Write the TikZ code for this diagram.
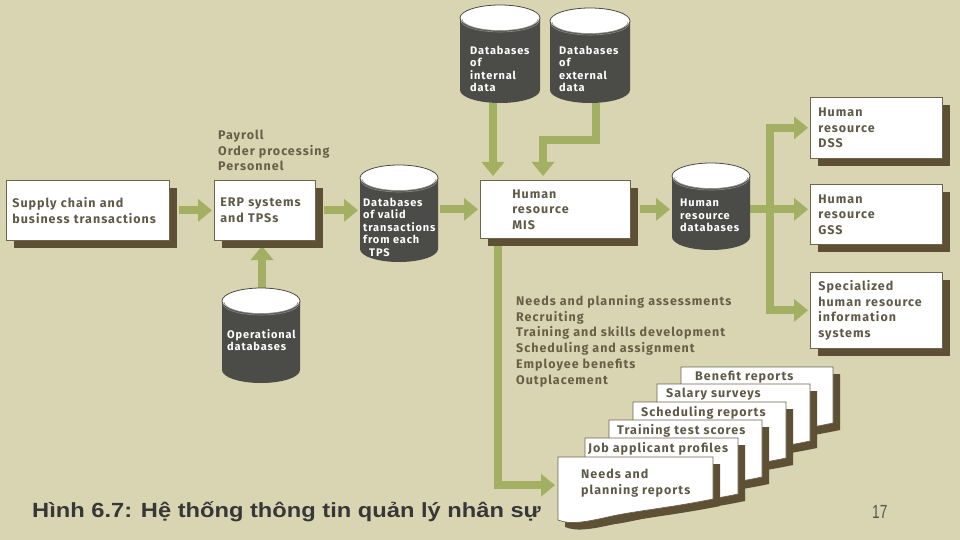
\documentclass[tikz,border=0pt]{standalone}
\usepackage{fontspec}
\setmainfont{Liberation Sans}
\newfontfamily\dfont[LetterSpace=8]{Fira Sans}
\usetikzlibrary{arrows.meta,shadows}
\definecolor{bgc}{RGB}{217,212,178}
\definecolor{gr}{RGB}{163,175,98}
\definecolor{shadc}{RGB}{94,80,52}
\definecolor{bordc}{RGB}{110,100,80}
\definecolor{boxtext}{RGB}{95,90,72}
\definecolor{listc}{RGB}{105,95,70}
\definecolor{cylc}{RGB}{75,75,72}
\definecolor{rimc}{RGB}{140,140,135}
\definecolor{capc}{RGB}{55,55,55}
\definecolor{pgnum}{RGB}{85,85,75}
\newcommand\dgmbox{\dfont\bfseries\fontsize{12.5}{15.5}\selectfont}
\newcommand\dgmcyl{\dfont\bfseries\fontsize{11}{12.4}\selectfont}
\pgfdeclarelayer{bglayer}
\pgfdeclarelayer{arrowlayer}
\pgfsetlayers{bglayer,arrowlayer,main}
\tikzset{
  sbox/.style={draw=bordc, line width=0.7pt, fill=white,
    drop shadow={shadow xshift=8pt, shadow yshift=-8pt, fill=shadc, opacity=1},
    anchor=north west, align=left, font=\dgmbox, text=boxtext, inner ysep=0pt},
  garrow/.style={draw=gr, line width=8pt, -{Triangle[length=14pt,width=22pt]}},
  garrowtwo/.style={draw=gr, line width=8pt, {Triangle[length=14pt,width=22pt]}-{Triangle[length=14pt,width=22pt]}},
  cylnode/.style={inner sep=0pt, anchor=north west},
  cyltext/.style={inner sep=0pt, anchor=north west, align=left, text=white, font=\dgmcyl},
  listtext/.style={inner sep=0pt, anchor=north west, align=left, text=listc, font=\dgmbox},
  docnode/.style={inner sep=0pt, anchor=north west, font=\dgmbox, text=boxtext},
}
% cylinder: name, x, y, w, h, text dx, text dy, text
\newcommand\dbcyl[8]{%
  \node[cylnode, minimum width=#4pt, minimum height=#5pt] (#1) at (#2,#3) {};
  \begin{scope}[shift={(#2,#3)}]
    \fill[cylc] (0,13) -- (0,#5-13) arc[start angle=180, end angle=0, x radius=#4/2, y radius=13] -- (#4,13) -- cycle;
    \filldraw[fill=white, draw=cylc, line width=0.8pt] (#4/2,13) ellipse [x radius=#4/2, y radius=13];
    \draw[rimc, line width=0.6pt] (2,14) arc[start angle=180, end angle=0, x radius=#4/2-2, y radius=11.5];
    \draw[rimc, line width=0.6pt] (1,15.5) arc[start angle=180, end angle=0, x radius=#4/2-1, y radius=11.5];
  \end{scope}
  \node[cyltext] (#1t) at (#2+#6,#3+#7) {#8};
}
\newcommand\docpath[2]{(0,0) -- (#1,0) -- (#1,#2) .. controls (0.75*#1,#2+8) and (0.5*#1,#2+12) .. (0.35*#1,#2+17) .. controls (0.18*#1,#2+23) and (0.08*#1,#2+26) .. (0,#2+21) -- cycle}
% doc: name, x, y, w, r, indent, topskip, boxheight, text
\newcommand\docpage[9]{%
  \begin{scope}[shift={(#2,#3)}]
    \fill[shadc, shift={(7,7)}] \docpath{#4}{#5};
    \filldraw[fill=white, draw=bordc, line width=0.7pt] \docpath{#4}{#5};
  \end{scope}
  \node[docnode] (#1) at (#2,#3) {\parbox[c][#8pt][t]{#4pt}{\raggedright\leftskip=#6pt\relax\vspace*{#7pt}#9}};
}
\begin{document}
\begin{tikzpicture}[x=1pt,y=-1pt]
\begin{pgfonlayer}{bglayer}
  \fill[bgc] (0,0) rectangle (960,540);
\end{pgfonlayer}
\path[use as bounding box] (0,0) rectangle (960,540);

% boxes
\node[sbox, minimum width=163pt, minimum height=60pt, inner xsep=6pt, text width=151pt] (sc) at (6,180) {\mbox{Supply chain and}\\\mbox{business transactions}};
\node[sbox, minimum width=101pt, minimum height=60pt, inner xsep=6pt, text width=89pt] (erp) at (214,180) {\mbox{ERP systems}\\and TPSs};
\node[sbox, minimum width=150pt, minimum height=58pt, inner xsep=32pt, text width=86pt] (mis) at (480,180) {Human\\resource\\MIS};
\node[sbox, minimum width=132pt, minimum height=61pt, inner xsep=8pt, text width=116pt] (dss) at (810,97) {Human\\resource\\DSS};
\node[sbox, minimum width=132pt, minimum height=60pt, inner xsep=8pt, text width=116pt] (gss) at (810,184) {Human\\resource\\GSS};
\node[sbox, minimum width=132pt, minimum height=76pt, inner xsep=8pt, text width=116pt] (spec) at (810,272) {Specialized\\\mbox{human resource}\\information\\systems};

% texts
\node[listtext] (tps) at (218,130) {Payroll\\Order processing\\Personnel};
\node[listtext, font=\dfont\bfseries\fontsize{12.5}{15.8}\selectfont] (funcs) at (516,295) {Needs and planning assessments\\Recruiting\\Training and skills development\\Scheduling and assignment\\Employee benefits\\Outplacement};

% cylinders
\dbcyl{int}{460}{5}{80}{98}{10}{41}{Databases\\of\\internal\\data}
\dbcyl{ext}{550}{8}{80}{95}{9}{38}{Databases\\of\\external\\data}
\dbcyl{valid}{360}{165}{78}{97}{3}{33}{Databases\\of valid\\transactions\\from each\\\hspace*{6pt}TPS}
\dbcyl{hrdb}{672}{163}{78}{87}{8}{36}{Human\\resource\\databases}
\dbcyl{ops}{222}{288}{78}{95}{5}{41}{Operational\\databases}

% documents
\docpage{benefit}{681}{367}{152}{56}{14}{4}{56}{Benefit reports}
\docpage{salary}{657}{384}{153}{57}{9}{4}{57}{Salary surveys}
\docpage{sched}{633}{402}{153}{56}{8}{4}{56}{Scheduling reports}
\docpage{train}{609}{420}{153}{57}{8}{4}{57}{Training test scores}
\docpage{job}{585}{438}{153}{56}{3}{4}{56}{\mbox{Job applicant profiles}}
\docpage{needs}{558}{457}{155}{42}{23}{12}{56}{Needs and\\\mbox{planning reports}}

% helper coordinates
\coordinate (split) at (770,209);
\coordinate (intout) at (493,103);
\coordinate (extout) at (596,103);
\coordinate (extin) at (543,180);
\coordinate (erpb) at (262,240);
\coordinate (opst) at (262,302);
\coordinate (misb) at (498,238);

% arrows
\begin{pgfonlayer}{arrowlayer}
  \draw[garrow, shorten <=9pt, shorten >=2pt] (sc.east) -- (erp.west);
  \draw[garrow, shorten <=8pt, shorten >=2pt] (erp.east) -- (erp.east -| valid.west);
  \draw[garrow, shorten <=2pt, shorten >=2pt] (valid.east |- mis.west) -- (mis.west);
  \draw[garrow, shorten <=9pt, shorten >=2pt] (mis.east) -- (mis.east -| hrdb.west);
  \draw[garrow, shorten >=2pt] (hrdb.east |- mis.east) -- (mis.east -| gss.west);
  \draw[garrow, shorten >=2pt] (split) |- (dss.west);
  \draw[garrow, shorten >=2pt] (split) |- (spec.west);
  \draw[garrow, shorten >=4pt] (intout) -- (intout |- mis.north);
  \draw[garrow, shorten >=4pt] (extout) -- ++(0,37) -| (extin);
  \draw[garrowtwo, shorten <=6pt] (erpb) -- (opst);
  \draw[garrow, shorten >=3pt] (misb) |- (needs.west);
\end{pgfonlayer}

% caption
\node[anchor=base west, inner sep=0pt, text=capc, font=\bfseries\fontsize{20.5}{24}\selectfont] (cap) at (32,517) {\scalebox{1.155}[1]{Hình 6.7: Hệ thống thông tin quản lý nhân sự}};
\node[anchor=base west, inner sep=0pt, text=pgnum, font=\fontsize{19}{22}\selectfont] (pg) at (872,518) {\scalebox{0.72}[1]{17}};
\end{tikzpicture}
\end{document}
